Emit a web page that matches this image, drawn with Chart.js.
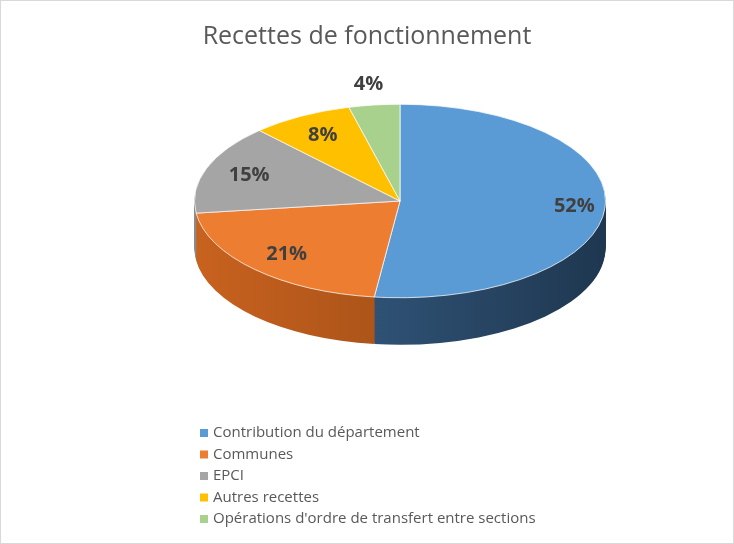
<!DOCTYPE html>
<html>
<head>
<meta charset="utf-8">
<script src="https://cdn.jsdelivr.net/npm/chart.js@4.4.0/dist/chart.umd.min.js"></script>
<style>
  body { margin: 0; background: #fff; }
  #wrap { width: 732px; height: 542px; border: 1px solid #d9d9d9; }
</style>
</head>
<body>
<div id="wrap"><canvas id="myChart" width="732" height="542"></canvas></div>
<script>
const chartTitle = 'Recettes de fonctionnement';
const categories = ['Contribution du département', 'Communes', 'EPCI', 'Autres recettes', "Opérations d'ordre de transfert entre sections"];
const shares = [52, 21, 15, 8, 4];
const topColors = ['#5b9bd5', '#ed7d31', '#a5a5a5', '#ffc000', '#a9d18e'];
const sideColors = [['#3b6690', '#1f3750'], ['#c8621f', '#8a4312'], ['#8a8a8a', '#555'], ['#d9a300', '#8c6a00'], ['#8fb574', '#5c7a48']];

const centerY = 200;
const squash = 97 / 206;
const depth = 47;

const pie3d = {
    id: 'pie3d',
    beforeDatasetsDraw(chart) {
        const ctx = chart.ctx;
        const arcs = chart.getDatasetMeta(0).data;
        const cx = arcs[0].x, cy = arcs[0].y;
        // side walls
        ctx.save();
        for (let d = depth; d > 0; d--) {
            arcs.forEach((a, i) => {
                const g = ctx.createLinearGradient(cx - a.outerRadius, 0, cx + a.outerRadius, 0);
                g.addColorStop(0, sideColors[i][0]);
                g.addColorStop(1, sideColors[i][1]);
                ctx.save();
                ctx.translate(0, centerY + d);
                ctx.scale(1, squash);
                ctx.translate(0, -cy);
                ctx.beginPath();
                ctx.moveTo(cx, cy);
                ctx.arc(cx, cy, a.outerRadius, a.startAngle, a.endAngle);
                ctx.closePath();
                ctx.fillStyle = g;
                ctx.fill();
                ctx.restore();
            });
        }
        ctx.restore();
        ctx.save();
        ctx.translate(0, centerY);
        ctx.scale(1, squash);
        ctx.translate(0, -cy);
    },
    afterDatasetsDraw(chart) {
        const ctx = chart.ctx;
        ctx.restore();
        const arcs = chart.getDatasetMeta(0).data;
        ctx.save();
        ctx.font = 'bold 20px "Open Sans", sans-serif';
        ctx.fillStyle = '#404040';
        ctx.textAlign = 'center';
        ctx.textBaseline = 'middle';
        arcs.forEach((a, i) => {
            const mid = (a.startAngle + a.endAngle) / 2;
            const f = shares[i] < 6 ? 1.22 : (i === 0 ? 0.85 : 0.78);
            const x = a.x + Math.cos(mid) * a.outerRadius * f;
            const y = centerY + Math.sin(mid) * a.outerRadius * f * squash;
            ctx.fillText(shares[i] + '%', x, y);
        });
        // title
        ctx.font = '25px "Open Sans", sans-serif';
        ctx.fillStyle = '#595959';
        ctx.fillText(chartTitle, 366, 36);
        // legend
        ctx.font = '15px "Open Sans", sans-serif';
        ctx.textAlign = 'left';
        categories.forEach((c, i) => {
            const y = 432 + i * 21.5;
            ctx.fillStyle = topColors[i];
            ctx.fillRect(199, y - 4, 8, 8);
            ctx.fillStyle = '#595959';
            ctx.fillText(c, 212, y);
        });
        ctx.restore();
    }
};

new Chart(document.getElementById('myChart'), {
    type: 'pie',
    data: {
        labels: categories,
        datasets: [{
            data: shares,
            backgroundColor: topColors,
            borderColor: '#ffffff',
            borderWidth: 1
        }]
    },
    options: {
        responsive: false,
        devicePixelRatio: 1,
        animation: false,
        layout: { padding: { left: 193, right: 127, top: 0, bottom: 130 } },
        plugins: {
            legend: { display: false },
            tooltip: { enabled: false },
            title: { display: false }
        }
    },
    plugins: [pie3d]
});
</script>
</body>
</html>
